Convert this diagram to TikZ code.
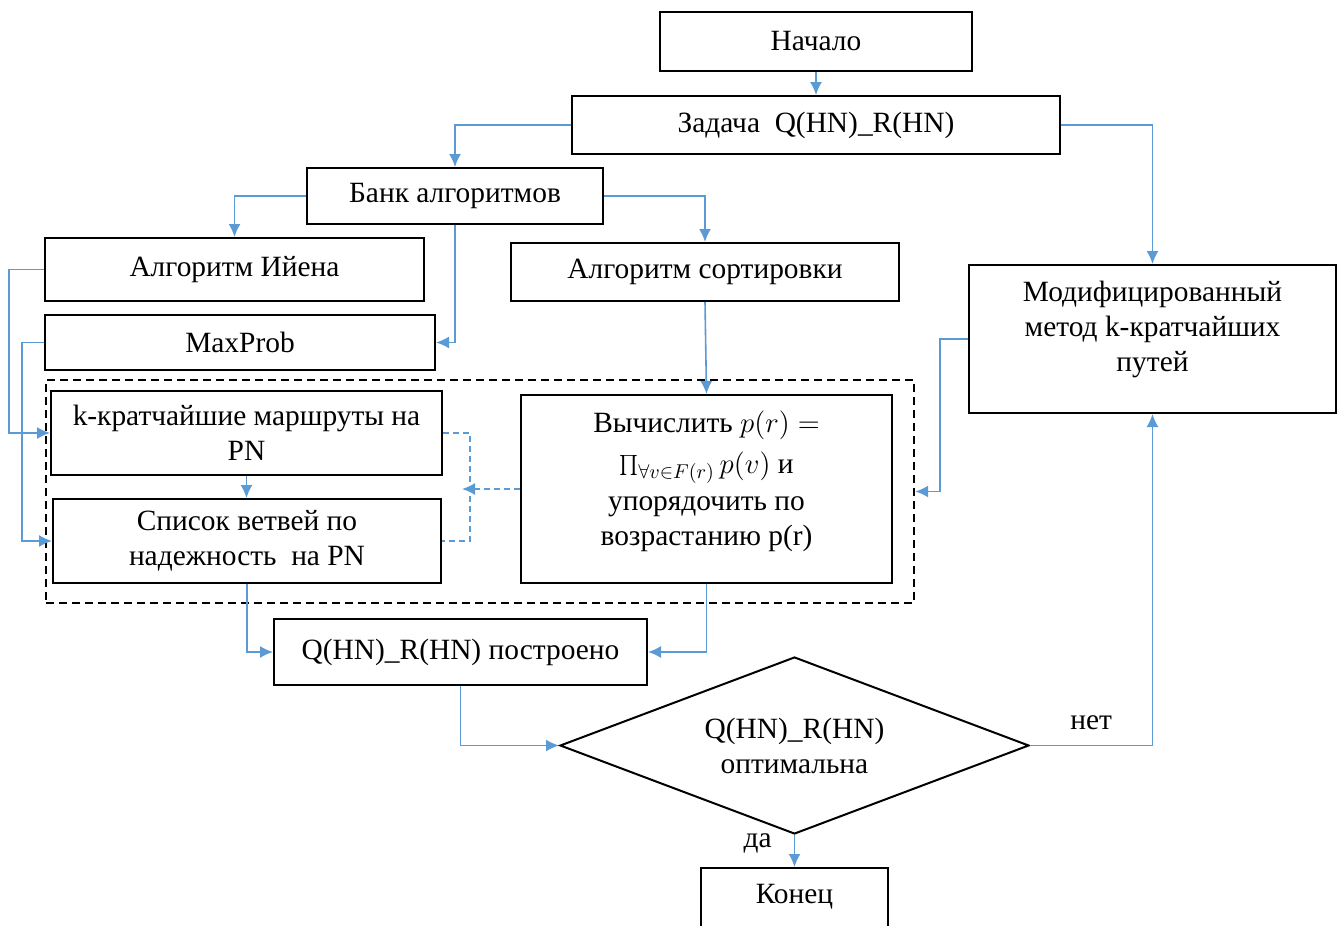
\documentclass[tikz,border=0pt]{standalone}
\usepackage{fontspec}
\setmainfont{Liberation Serif}
\usetikzlibrary{arrows.meta,shapes.geometric,calc}
\definecolor{linkblue}{RGB}{91,155,213}
\tikzset{
  txt/.style={font=\fontsize{14.7}{17.5}\selectfont, align=center, inner sep=0pt},
  box/.style={txt, draw, line width=1pt},
  tip/.style={-{Latex[length=6.5pt,width=6pt]}},
  link/.style={draw=linkblue, line width=0.8pt, tip},
  dashlink/.style={draw=linkblue, line width=0.8pt, dash pattern=on 3pt off 2pt},
  groupframe/.style={draw, line width=1.2pt, dash pattern=on 4pt off 2.5pt, inner sep=0pt}
}
\begin{document}
\begin{tikzpicture}[x=0.5pt, y=-0.5pt]
\useasboundingbox (0,0) rectangle (1340,926);
\clip (0,0) rectangle (1340,926);

% blocks
\node[box, minimum width=156pt, minimum height=29.5pt] (start) at (816,41.5) {Начало};
\node[box, minimum width=244pt, minimum height=29pt] (task) at (816,125) {Задача\ \ Q(HN)\_R(HN)};
\node[box, minimum width=148pt, minimum height=28pt] (bank) at (455,196) {Банк алгоритмов};
\node[box, minimum width=189.5pt, minimum height=31.5pt] (yen) at (234.5,269.5) {Алгоритм Ийена};
\node[box, minimum width=194pt, minimum height=29pt] (sort) at (705,272) {Алгоритм сортировки};
\node[box, minimum width=195pt, minimum height=27.5pt] (maxp) at (240,342.5) {MaxProb};
\node[box, minimum width=183.5pt, minimum height=74pt] (mod) at (1152.5,339) {};
\node[txt] (modtext) at (1152.5,329) {Модифицированный\\метод k-кратчайших\\путей};

% dashed group
\node[groupframe, minimum width=434pt, minimum height=111.5pt] (group) at (480,491.5) {};
\node[box, minimum width=195.5pt, minimum height=42pt] (kshort) at (246.5,433) {k-кратчайшие маршруты на\\PN};
\node[box, minimum width=194pt, minimum height=42pt] (branch) at (247,541) {Список ветвей по\\надежность\ \ на PN};
\node[box, minimum width=185.5pt, minimum height=94pt] (calc) at (706.5,489) {};
\node[txt] (calctext) at (706.5,481) {Вычислить $p(r) =$\\[3pt]$\prod_{\forall v\in F(r)} p(v)$ и\\[1pt]упорядочить по\\возрастанию p(r)};

\node[box, minimum width=186.5pt, minimum height=33pt] (built) at (460.5,652) {Q(HN)\_R(HN) построено};
\node[txt, draw, line width=1pt, diamond, aspect=2.65, minimum width=234.5pt, minimum height=88.5pt] (opt) at (794.5,745.5) {Q(HN)\_R(HN)\\оптимальна};
\node[box, anchor=north, minimum width=93.5pt, minimum height=40pt] (stop) at (794.5,867) {};
\node[txt] (stoptext) at (794.5,897) {Конец};

% connectors
\draw[link] (start) -- (task);
\draw[link] (task.west) -| (bank.north);
\draw[link] (task.east) -| (mod.north);
\draw[link] (bank.west) -| (yen.north);
\draw[link] (bank.east) -| (sort.north);
\draw[link] (bank.south) |- (maxp.east);
\draw[link] (yen.west) -- ++(-35,0) |- (kshort.west);
\draw[link] (maxp.west) -- ++(-22,0) |- (branch.west);
\draw[link] (sort.south) -- (calc.north);
\draw[link] (kshort.south) -- (kshort.south |- branch.north);
\draw[link] (mod.west) -- ++(-28,0) |- (group.east);
\draw[dashlink] (kshort.east) -- ++(27,0) |- (branch.east);
\draw[dashlink, tip] (calc.west) -- ([xshift=9.5pt]calc.west -| kshort.east);
\draw[link] (branch.south) |- (built.west);
\draw[link] (calc.south) |- (built.east);
\draw[link] (built.south) |- (opt.west);
\draw[link] (opt.east) -| node[txt, pos=0.25, above=7.5pt] {нет} (mod.south);
\draw[link] (opt.south) -- node[txt, pos=0.25, left=11pt] {да} (stop.north);
\end{tikzpicture}
\end{document}
